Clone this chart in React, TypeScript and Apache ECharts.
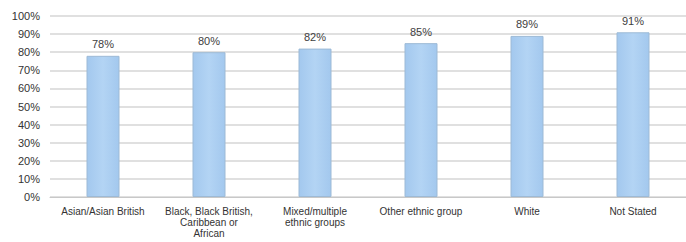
import React, { useEffect, useRef } from "react";
import * as echarts from "echarts";

const categories = [
  "Asian/Asian British",
  "Black, Black British,\nCaribbean or\nAfrican",
  "Mixed/multiple\nethnic groups",
  "Other ethnic group",
  "White",
  "Not Stated",
];
const values = [78, 80, 82, 85, 89, 91];

export default function App() {
  const ref = useRef<HTMLDivElement>(null);
  useEffect(() => {
    if (!ref.current) return;
    const chart = echarts.init(ref.current, undefined, { renderer: "svg" });
    chart.setOption({
      animation: false,
      backgroundColor: "#ffffff",
      grid: { left: 50, right: 0, top: 16, bottom: 45, containLabel: false },
      xAxis: {
        type: "category",
        data: categories,
        axisTick: { show: false },
        axisLine: { lineStyle: { color: "#c8c8c8", width: 1 } },
        axisLabel: {
          interval: 0,
          color: "#333333",
          fontFamily: "Liberation Sans",
          fontSize: 10,
          lineHeight: 11,
          margin: 9,
        },
      },
      yAxis: {
        type: "value",
        min: 0,
        max: 100,
        interval: 10,
        axisLine: { show: false },
        axisTick: { show: false },
        splitLine: { lineStyle: { color: "#d6d6d6", width: 1.5 } },
        axisLabel: {
          formatter: "{value}%",
          color: "#333333",
          fontFamily: "Liberation Sans",
          fontSize: 11,
          margin: 10,
        },
      },
      series: [
        {
          type: "bar",
          data: values,
          barWidth: 33,
          itemStyle: {
            color: new echarts.graphic.LinearGradient(0, 0, 1, 0, [
              { offset: 0, color: "#a3c8ee" },
              { offset: 0.5, color: "#b3d4f4" },
              { offset: 1, color: "#a3c8ee" },
            ]),
            borderColor: "#9dbad6",
            borderWidth: 1,
          },
          label: {
            show: true,
            position: "top",
            distance: 6,
            formatter: "{c}%",
            color: "#404040",
            fontFamily: "Liberation Sans",
            fontSize: 11,
          },
        },
      ],
    });
    return () => chart.dispose();
  }, []);
  return (
    <div
      ref={ref}
      style={{ position: "absolute", left: 0, top: 0, width: 686, height: 242 }}
    />
  );
}
